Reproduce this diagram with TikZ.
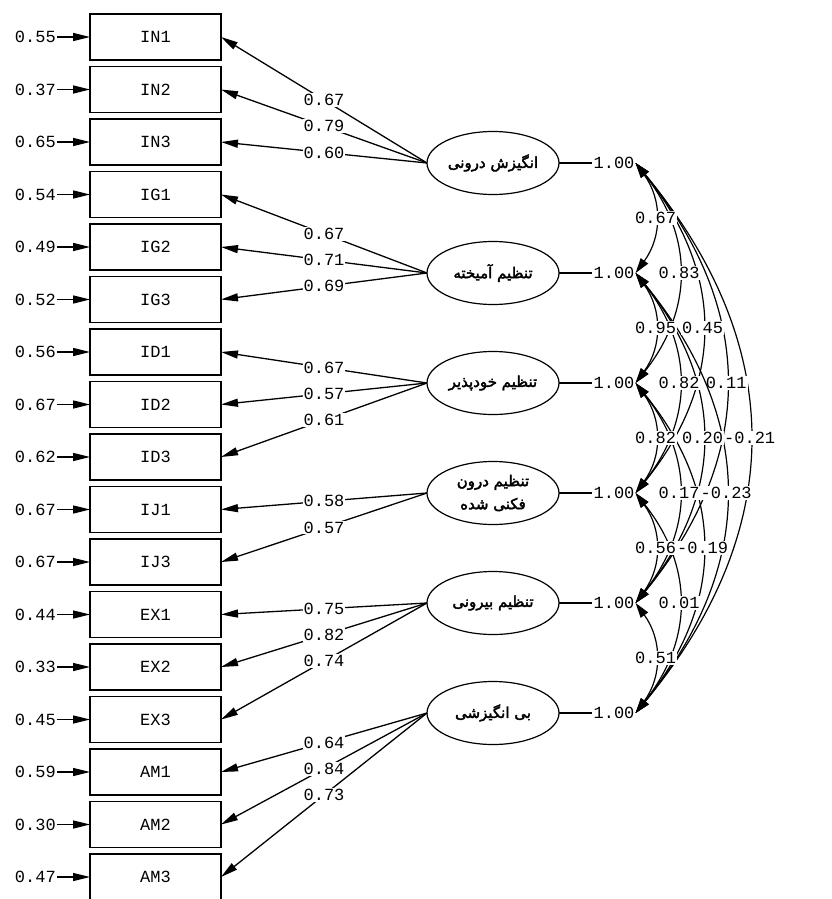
\documentclass[tikz,border=0pt]{standalone}
\usepackage{fontspec}
\setmonofont{Liberation Mono}
\newfontfamily\fafont[Script=Arabic, FakeBold=2.5]{DejaVu Sans}
\TeXXeTstate=1
\usetikzlibrary{shapes,arrows.meta,positioning,calc}

\begin{document}
\begin{tikzpicture}[
    x=1pt, y=1pt,
    node distance=6.5pt and 33pt,
    item/.style={rectangle, draw, line width=1.4pt, outer sep=0pt, inner sep=0pt,
                minimum width=131pt, minimum height=46pt, font=\ttfamily\fontsize{17}{17}\selectfont},
    factor/.style={ellipse, draw, line width=1.2pt, outer sep=0pt, inner sep=0pt, align=center,
                minimum width=132pt, minimum height=63pt, font=\fafont\fontsize{15}{23}\selectfont},
    num/.style={font=\ttfamily\fontsize{17}{17}\selectfont, inner sep=1pt},
    load/.style={num, fill=white, pos=0.5},
    arrow/.style={-{Triangle[length=17pt,width=8pt]}, line width=1.3pt},
    corr/.style={{Triangle[length=15pt,width=9pt]}-{Triangle[length=15pt,width=9pt]}, line width=1.2pt}
]
    \useasboundingbox (0,0) rectangle (832,-899);

    % observed variables
    \node[item] (in1) at (155.5,-37) {IN1};
    \node[item, below=of in1] (in2) {IN2};
    \node[item, below=of in2] (in3) {IN3};
    \node[item, below=of in3] (ig1) {IG1};
    \node[item, below=of ig1] (ig2) {IG2};
    \node[item, below=of ig2] (ig3) {IG3};
    \node[item, below=of ig3] (id1) {ID1};
    \node[item, below=of id1] (id2) {ID2};
    \node[item, below=of id2] (id3) {ID3};
    \node[item, below=of id3] (ij1) {IJ1};
    \node[item, below=of ij1] (ij3) {IJ3};
    \node[item, below=of ij3] (ex1) {EX1};
    \node[item, below=of ex1] (ex2) {EX2};
    \node[item, below=of ex2] (ex3) {EX3};
    \node[item, below=of ex3] (am1) {AM1};
    \node[item, below=of am1] (am2) {AM2};
    \node[item, below=of am2] (am3) {AM3};

    % latent factors
    \node[factor] (f1) at (493,-163) {\beginR انگیزش درونی\endR};
    \node[factor] (f2) at (493,-273) {\beginR تنظیم آمیخته\endR};
    \node[factor] (f3) at (493,-383) {\beginR تنظیم خودپذیر\endR};
    \node[factor] (f4) at (493,-493) {\beginR تنظیم درون\endR\\\beginR فکنی شده\endR};
    \node[factor] (f5) at (493,-603) {\beginR تنظیم بیرونی\endR};
    \node[factor] (f6) at (493,-713) {\beginR بی انگیزشی\endR};

    % factor variances
    \foreach \i in {1,...,6} {
        \node[num] (v\i) at (614,{-163-110*(\i-1)}) {1.00};
        \draw[line width=1.2pt] (f\i.east) -- (v\i);
    }

    % error variances
    \foreach \b/\e in {in1/0.55, in2/0.37, in3/0.65, ig1/0.54, ig2/0.49, ig3/0.52,
                       id1/0.56, id2/0.67, id3/0.62, ij1/0.67, ij3/0.67,
                       ex1/0.44, ex2/0.33, ex3/0.45, am1/0.59, am2/0.30, am3/0.47} {
        \node[num, left=33pt of \b] (e\b) {\e};
        \draw[arrow] (e\b) -- (\b);
    }

    % loadings
    \foreach \f/\b/\l in {f1/in1/0.67, f1/in2/0.79, f1/in3/0.60,
                          f2/ig1/0.67, f2/ig2/0.71, f2/ig3/0.69,
                          f3/id1/0.67, f3/id2/0.57, f3/id3/0.61,
                          f4/ij1/0.58, f4/ij3/0.57,
                          f5/ex1/0.75, f5/ex2/0.82, f5/ex3/0.74,
                          f6/am1/0.64, f6/am2/0.84, f6/am3/0.73}
        \draw[arrow] (\f.west) -- node[load] {\l} (\b.east);

    % factor correlations
    \foreach \a/\b/\r/\d in {1/6/-0.21/228, 1/5/0.11/181, 2/6/-0.23/181,
                             1/4/0.45/134, 2/5/0.20/134, 3/6/-0.19/134,
                             1/3/0.83/87, 2/4/0.82/87, 3/5/0.17/87, 4/6/0.01/87,
                             1/2/0.67/40, 2/3/0.95/40, 3/4/0.82/40, 4/5/0.56/40, 5/6/0.51/40} {
        \coordinate (q) at ($(v\a.east)!0.5!(v\b.east)+(\d,0)$);
        \draw[corr] (v\a.east) .. controls ($(v\a.east)!0.667!(q)$) and ($(v\b.east)!0.667!(q)$)
            .. node[load] {\r} (v\b.east);
    }
\end{tikzpicture}
\end{document}
